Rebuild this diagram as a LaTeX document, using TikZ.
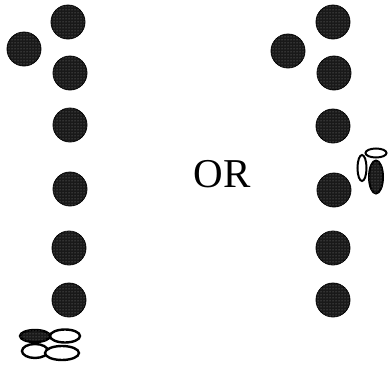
\documentclass[tikz,border=0pt]{standalone}
\usepackage{fontspec}
\setmainfont{Liberation Serif}
\usetikzlibrary{patterns}
\begin{document}
\begin{tikzpicture}[x=1pt,y=-1pt,
	bead/.style={circle,minimum size=34pt,inner sep=0pt,draw=black,line width=0.8pt,fill=black!90,
		postaction={pattern=dots,pattern color=black!45}},
	ring/.style={draw=black,line width=2.4pt,fill=white}]
			\useasboundingbox (0,0) rectangle (392,367);
			%Cot trai
			\node[bead] (l1) at (68,22) {};
			\node[bead] (lx) at (24,49) {};
			\node[bead] (l2) at (70,73) {};
			\node[bead] (l3) at (70,125) {};
			\node[bead] (l4) at (70,189) {};
			\node[bead] (l5) at (69,248) {};
			\node[bead] (l6) at (69,300) {};
			%Cot phai
			\node[bead] (r1) at (333,22) {};
			\node[bead] (rx) at (288,51) {};
			\node[bead] (r2) at (334,73) {};
			\node[bead] (r3) at (333,126) {};
			\node[bead] (r4) at (334,190) {};
			\node[bead] (r5) at (333,248) {};
			\node[bead] (r6) at (333,300) {};
			%Chu
			\node[inner sep=0pt] (or) at (222,174) {\fontsize{41}{41}\selectfont OR};
			%Vong duoi trai
			\draw[line width=2.4pt,fill=black!90,postaction={pattern=dots,pattern color=black!45}] (35,336) ellipse (15 and 6);
			\draw[ring] (65,336) ellipse (15 and 6.5);
			\draw[ring] (35,351) ellipse (13 and 7);
			\draw[ring] (62,353) ellipse (17 and 7);
			%Vong phai
			\draw[line width=2pt,fill=black!90,postaction={pattern=dots,pattern color=black!45}] (376,177) ellipse (7 and 16.5);
			\draw[ring,line width=2pt] (376,153) ellipse (10.5 and 4.5);
			\draw[ring,line width=2pt] (362,168) ellipse (4.5 and 13);
		\end{tikzpicture}
\end{document}
